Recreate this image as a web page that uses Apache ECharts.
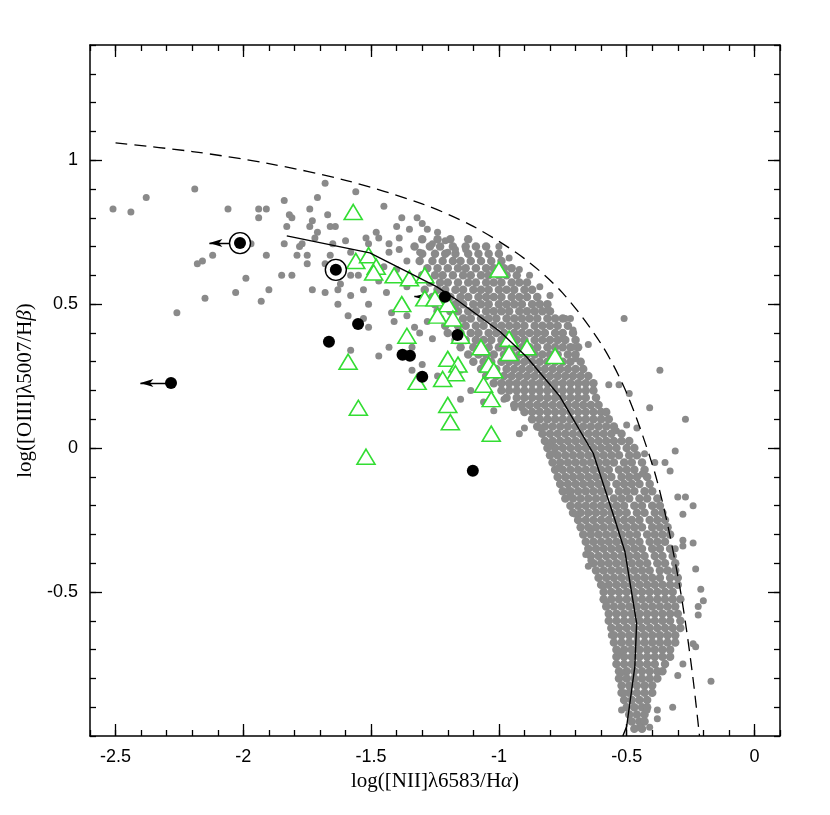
<!DOCTYPE html>
<html>
<head>
<meta charset="utf-8">
<script src="https://cdn.jsdelivr.net/npm/echarts@6/dist/echarts.min.js"></script>
<style>
  html, body { margin: 0; padding: 0; background: #fff; }
  #chart { width: 830px; height: 815px; }
</style>
</head>
<body>
<div id="chart"></div>
<script>
// dense part of the gray cloud, one row per log([OIII]/Hb) value: [y, [x values]]
var grayBandRows = [
  [0.725, [-1.30, -1.24, -1.19, -1.12]],
  [0.700, [-1.33, -1.27, -1.23, -1.18, -1.13, -1.09, -1.05]],
  [0.675, [-1.30, -1.25, -1.21, -1.17, -1.12, -1.08, -1.04, -1.00]],
  [0.650, [-1.31, -1.26, -1.22, -1.18, -1.15, -1.11, -1.07, -1.03, -0.99]],
  [0.625, [-1.28, -1.24, -1.20, -1.16, -1.13, -1.09, -1.05, -1.02, -0.98, -0.95]],
  [0.600, [-1.30, -1.25, -1.22, -1.18, -1.14, -1.11, -1.07, -1.04, -1.00, -0.97, -0.93]],
  [0.575, [-1.27, -1.23, -1.20, -1.16, -1.12, -1.09, -1.05, -1.02, -0.99, -0.95, -0.92, -0.89]],
  [0.550, [-1.29, -1.24, -1.21, -1.17, -1.14, -1.10, -1.07, -1.04, -1.00, -0.97, -0.94, -0.90, -0.87]],
  [0.525, [-1.26, -1.22, -1.19, -1.15, -1.12, -1.08, -1.05, -1.02, -0.99, -0.95, -0.92, -0.89, -0.85]],
  [0.500, [-1.25, -1.21, -1.17, -1.14, -1.10, -1.07, -1.04, -1.00, -0.97, -0.94, -0.91, -0.87, -0.84, -0.81]],
  [0.475, [-1.24, -1.19, -1.16, -1.12, -1.09, -1.05, -1.02, -0.99, -0.96, -0.92, -0.89, -0.86, -0.83, -0.80]],
  [0.450, [-1.23, -1.18, -1.14, -1.11, -1.07, -1.04, -1.01, -0.97, -0.94, -0.91, -0.88, -0.85, -0.81, -0.78, -0.75]],
  [0.425, [-1.21, -1.16, -1.13, -1.09, -1.06, -1.02, -0.99, -0.96, -0.93, -0.90, -0.86, -0.83, -0.80, -0.77, -0.73]],
  [0.400, [-1.20, -1.15, -1.11, -1.08, -1.04, -1.01, -0.98, -0.94, -0.91, -0.88, -0.85, -0.82, -0.78, -0.75, -0.71]],
  [0.375, [-1.17, -1.13, -1.09, -1.06, -1.03, -0.99, -0.96, -0.93, -0.90, -0.86, -0.83, -0.80, -0.77, -0.74, -0.70]],
  [0.350, [-1.15, -1.10, -1.07, -1.04, -1.00, -0.97, -0.94, -0.91, -0.88, -0.85, -0.81, -0.78, -0.75, -0.72, -0.69]],
  [0.325, [-1.12, -1.08, -1.05, -1.02, -0.98, -0.95, -0.92, -0.89, -0.86, -0.83, -0.80, -0.77, -0.73, -0.70]],
  [0.300, [-1.10, -1.06, -1.03, -0.99, -0.96, -0.93, -0.90, -0.87, -0.84, -0.81, -0.78, -0.75, -0.72, -0.68]],
  [0.275, [-1.07, -1.04, -1.01, -0.97, -0.94, -0.91, -0.88, -0.85, -0.82, -0.79, -0.76, -0.73, -0.70, -0.67]],
  [0.250, [-1.05, -1.01, -0.98, -0.95, -0.92, -0.89, -0.86, -0.83, -0.80, -0.77, -0.74, -0.71, -0.68, -0.65]],
  [0.225, [-1.02, -0.99, -0.96, -0.93, -0.90, -0.87, -0.84, -0.81, -0.78, -0.75, -0.72, -0.69, -0.66, -0.63]],
  [0.200, [-0.99, -0.96, -0.93, -0.90, -0.87, -0.84, -0.81, -0.78, -0.75, -0.72, -0.69, -0.66, -0.63]],
  [0.175, [-0.97, -0.93, -0.90, -0.87, -0.84, -0.81, -0.78, -0.75, -0.72, -0.69, -0.66, -0.62]],
  [0.150, [-0.94, -0.91, -0.88, -0.85, -0.82, -0.79, -0.76, -0.73, -0.70, -0.67, -0.64, -0.61]],
  [0.125, [-0.90, -0.87, -0.84, -0.81, -0.78, -0.75, -0.72, -0.69, -0.66, -0.63, -0.60, -0.58]],
  [0.100, [-0.87, -0.84, -0.81, -0.78, -0.75, -0.72, -0.69, -0.66, -0.63, -0.60, -0.57]],
  [0.075, [-0.85, -0.82, -0.79, -0.76, -0.73, -0.70, -0.67, -0.64, -0.61, -0.58, -0.55]],
  [0.050, [-0.83, -0.80, -0.77, -0.74, -0.71, -0.68, -0.65, -0.62, -0.59, -0.56, -0.52]],
  [0.025, [-0.82, -0.79, -0.76, -0.73, -0.70, -0.67, -0.64, -0.61, -0.58, -0.55, -0.52, -0.49]],
  [0.000, [-0.81, -0.78, -0.75, -0.72, -0.69, -0.66, -0.63, -0.60, -0.57, -0.54, -0.50, -0.47]],
  [-0.025, [-0.80, -0.77, -0.74, -0.71, -0.68, -0.65, -0.62, -0.59, -0.56, -0.53, -0.49, -0.46]],
  [-0.050, [-0.79, -0.76, -0.73, -0.70, -0.67, -0.64, -0.61, -0.58, -0.55, -0.51, -0.48, -0.44]],
  [-0.075, [-0.78, -0.75, -0.72, -0.69, -0.66, -0.63, -0.60, -0.57, -0.53, -0.50, -0.47, -0.43]],
  [-0.100, [-0.77, -0.74, -0.71, -0.68, -0.65, -0.62, -0.59, -0.56, -0.52, -0.49, -0.46, -0.42]],
  [-0.125, [-0.76, -0.73, -0.70, -0.67, -0.64, -0.61, -0.58, -0.54, -0.51, -0.48, -0.45, -0.41]],
  [-0.150, [-0.75, -0.72, -0.69, -0.66, -0.63, -0.60, -0.57, -0.53, -0.50, -0.47, -0.43, -0.40]],
  [-0.175, [-0.74, -0.71, -0.68, -0.65, -0.62, -0.59, -0.55, -0.52, -0.49, -0.45, -0.42, -0.38]],
  [-0.200, [-0.72, -0.69, -0.66, -0.63, -0.60, -0.57, -0.54, -0.51, -0.47, -0.44, -0.40, -0.37]],
  [-0.225, [-0.71, -0.68, -0.65, -0.62, -0.59, -0.56, -0.53, -0.50, -0.46, -0.43, -0.39, -0.36]],
  [-0.250, [-0.69, -0.66, -0.63, -0.60, -0.57, -0.54, -0.51, -0.48, -0.45, -0.41, -0.38, -0.35]],
  [-0.275, [-0.68, -0.65, -0.62, -0.59, -0.56, -0.53, -0.50, -0.47, -0.44, -0.40, -0.37, -0.34]],
  [-0.300, [-0.67, -0.64, -0.61, -0.58, -0.55, -0.52, -0.49, -0.46, -0.42, -0.39, -0.36, -0.33]],
  [-0.325, [-0.66, -0.63, -0.60, -0.57, -0.54, -0.51, -0.48, -0.45, -0.41, -0.38, -0.35]],
  [-0.350, [-0.65, -0.62, -0.59, -0.56, -0.53, -0.50, -0.47, -0.44, -0.40, -0.37, -0.33]],
  [-0.375, [-0.64, -0.61, -0.58, -0.55, -0.52, -0.49, -0.46, -0.43, -0.39, -0.36, -0.32]],
  [-0.400, [-0.63, -0.60, -0.57, -0.54, -0.51, -0.48, -0.45, -0.42, -0.38, -0.35, -0.31]],
  [-0.425, [-0.62, -0.59, -0.56, -0.53, -0.50, -0.47, -0.44, -0.41, -0.37, -0.34, -0.31]],
  [-0.450, [-0.61, -0.58, -0.55, -0.52, -0.49, -0.46, -0.43, -0.40, -0.37, -0.33, -0.30]],
  [-0.475, [-0.60, -0.57, -0.54, -0.51, -0.48, -0.45, -0.42, -0.39, -0.36, -0.33, -0.30]],
  [-0.500, [-0.59, -0.56, -0.53, -0.50, -0.47, -0.44, -0.41, -0.38, -0.35, -0.32]],
  [-0.525, [-0.59, -0.56, -0.53, -0.50, -0.47, -0.44, -0.41, -0.38, -0.35, -0.32, -0.29]],
  [-0.550, [-0.58, -0.55, -0.52, -0.49, -0.46, -0.43, -0.40, -0.37, -0.34, -0.31]],
  [-0.575, [-0.57, -0.54, -0.51, -0.48, -0.45, -0.42, -0.39, -0.36, -0.33, -0.30]],
  [-0.600, [-0.57, -0.54, -0.51, -0.48, -0.45, -0.42, -0.39, -0.36, -0.33, -0.29]],
  [-0.625, [-0.56, -0.53, -0.50, -0.47, -0.44, -0.41, -0.38, -0.35, -0.32, -0.29]],
  [-0.650, [-0.55, -0.52, -0.49, -0.46, -0.43, -0.40, -0.37, -0.34, -0.31]],
  [-0.675, [-0.55, -0.52, -0.49, -0.46, -0.43, -0.40, -0.37, -0.34, -0.31]],
  [-0.700, [-0.54, -0.51, -0.48, -0.45, -0.42, -0.39, -0.36, -0.33]],
  [-0.725, [-0.54, -0.51, -0.48, -0.45, -0.42, -0.39, -0.36, -0.33]],
  [-0.750, [-0.54, -0.51, -0.48, -0.45, -0.42, -0.39, -0.35]],
  [-0.775, [-0.53, -0.50, -0.47, -0.44, -0.41, -0.38, -0.36]],
  [-0.800, [-0.53, -0.50, -0.47, -0.44, -0.41, -0.38]],
  [-0.825, [-0.52, -0.49, -0.46, -0.43, -0.40]],
  [-0.850, [-0.52, -0.49, -0.46, -0.43, -0.40]],
  [-0.875, [-0.51, -0.48, -0.45, -0.42]],
  [-0.900, [-0.50, -0.47, -0.44, -0.42]],
  [-0.925, [-0.49, -0.46, -0.43]],
  [-0.950, [-0.48, -0.45, -0.43]],
  [-0.975, [-0.47, -0.44]]
];

// scattered gray galaxies outside the dense band: [x, y]
var grayScatter = [
  [-2.51, 0.83], [-2.44, 0.82], [-2.38, 0.87], [-2.19, 0.90], [-2.06, 0.83], [-1.94, 0.83], [-1.91, 0.83],
  [-1.94, 0.80], [-1.84, 0.86], [-1.82, 0.81], [-1.81, 0.80], [-1.83, 0.77], [-1.74, 0.83], [-1.71, 0.87],
  [-1.68, 0.92], [-1.56, 0.89], [-1.67, 0.81], [-1.73, 0.79], [-1.74, 0.77], [-1.66, 0.77], [-1.64, 0.77],
  [-1.71, 0.75], [-1.72, 0.73], [-1.60, 0.72], [-1.65, 0.71], [-1.77, 0.71], [-1.78, 0.70], [-1.84, 0.71],
  [-1.97, 0.71], [-1.91, 0.67], [-1.79, 0.67], [-1.75, 0.67], [-1.75, 0.64], [-1.66, 0.67], [-1.68, 0.64],
  [-1.58, 0.68], [-2.12, 0.67], [-2.16, 0.65], [-2.18, 0.64], [-1.99, 0.59], [-1.85, 0.60], [-1.81, 0.60],
  [-2.03, 0.54], [-1.90, 0.55], [-2.15, 0.52], [-1.93, 0.51], [-2.26, 0.47], [-1.73, 0.55], [-1.68, 0.54],
  [-1.63, 0.55], [-1.62, 0.57], [-1.58, 0.53], [-1.63, 0.50], [-1.58, 0.60], [-1.55, 0.60], [-1.59, 0.46],
  [-1.53, 0.55], [-1.52, 0.73], [-1.51, 0.71],
  [-1.32, 0.80], [-1.40, 0.77], [-1.48, 0.75], [-1.47, 0.73], [-1.39, 0.73], [-1.43, 0.71], [-1.28, 0.76],
  [-1.24, 0.75], [-1.26, 0.71], [-1.21, 0.72], [-1.31, 0.68], [-1.39, 0.69], [-1.43, 0.68], [-1.36, 0.65],
  [-1.20, 0.68], [-1.17, 0.69], [-1.13, 0.69], [-1.00, 0.70], [-1.45, 0.84], [-1.38, 0.80], [-1.30, 0.78],
  [-1.35, 0.76], [-0.96, 0.66], [-0.92, 0.62], [-0.88, 0.60], [-0.84, 0.56], [-0.80, 0.53],
  [-1.51, 0.50], [-1.53, 0.45], [-1.51, 0.42], [-1.42, 0.47], [-1.41, 0.44], [-1.36, 0.46], [-1.33, 0.42],
  [-1.28, 0.44], [-1.31, 0.40], [-1.26, 0.38], [-1.58, 0.34], [-1.47, 0.32], [-1.43, 0.35], [-1.34, 0.35],
  [-1.30, 0.29], [-1.34, 0.27], [-1.24, 0.25], [-1.15, 0.17], [-1.15, 0.27], [-1.11, 0.20], [-1.06, 0.16],
  [-1.47, 0.58], [-1.44, 0.54], [-1.40, 0.62], [-1.36, 0.56], [-1.45, 0.63],
  [-0.51, 0.45], [-0.37, 0.27], [-0.27, 0.10], [-0.41, 0.14], [-0.31, -0.01], [-0.35, -0.05], [-0.33, -0.08],
  [-0.57, 0.22], [-0.53, 0.22], [-0.49, 0.19], [-0.54, 0.06], [-0.50, 0.08], [-0.46, 0.07], [-0.43, -0.02],
  [-0.39, -0.05], [-0.44, -0.09], [-0.72, 0.45], [-0.71, 0.41], [-0.65, 0.36], [-0.75, 0.38], [-0.71, 0.35],
  [-0.70, 0.31], [-0.81, 0.48], [-0.74, 0.45],
  [-1.02, 0.13], [-0.92, 0.05], [-0.90, 0.07], [-0.84, 0.07], [-0.94, 0.14], [-0.91, 0.14], [-0.98, 0.17],
  [-0.80, 0.01], [-0.79, -0.02], [-0.76, -0.05], [-0.77, -0.07],
  [-0.30, -0.17], [-0.27, -0.17], [-0.24, -0.20], [-0.28, -0.23], [-0.28, -0.32], [-0.24, -0.33], [-0.28, -0.34],
  [-0.31, -0.35], [-0.23, -0.42], [-0.21, -0.49], [-0.20, -0.53], [-0.22, -0.55], [-0.22, -0.58], [-0.24, -0.68],
  [-0.23, -0.69], [-0.28, -0.75], [-0.30, -0.79], [-0.17, -0.81], [-0.32, -0.90], [-0.38, -0.91], [-0.38, -0.94],
  [-0.41, -0.97], [-0.45, -0.97], [-0.42, -0.91], [-0.52, -0.91],
  [-0.70, -0.23], [-0.66, -0.37], [-0.64, -0.39], [-0.65, -0.41], [-0.59, -0.48], [-0.58, -0.54], [-0.56, -0.65],
  [-0.53, -0.71], [-0.52, -0.78], [-0.72, -0.16], [-0.73, -0.15], [-0.64, -0.29], [-0.51, -0.85]
];

// green open triangles
var triangles = [
  [-1.57, 0.82], [-1.56, 0.65], [-1.51, 0.67], [-1.48, 0.63], [-1.49, 0.61], [-1.41, 0.60], [-1.35, 0.59],
  [-1.29, 0.60], [-1.38, 0.50], [-1.29, 0.52], [-1.25, 0.52], [-1.20, 0.50], [-1.24, 0.46], [-1.18, 0.45],
  [-1.36, 0.39], [-1.15, 0.39], [-1.20, 0.31], [-1.16, 0.29], [-1.17, 0.26], [-1.22, 0.24], [-1.32, 0.23],
  [-1.59, 0.30], [-1.55, 0.14], [-1.20, 0.15], [-1.00, 0.62], [-1.07, 0.35], [-1.04, 0.29], [-1.02, 0.27],
  [-1.06, 0.22], [-1.03, 0.17], [-0.96, 0.38], [-0.96, 0.33], [-0.89, 0.35], [-0.78, 0.32], [-1.03, 0.05],
  [-1.52, -0.03], [-1.19, 0.09]
];

// black filled circles
var blackDots = [
  [-2.013, 0.712], [-1.638, 0.619], [-2.283, 0.226], [-1.211, 0.526], [-1.665, 0.369], [-1.551, 0.431],
  [-1.377, 0.324], [-1.348, 0.321], [-1.300, 0.248], [-1.162, 0.393], [-1.102, -0.079]
];
// circled ones
var ringed = [[-2.013, 0.712], [-1.638, 0.619]];
// upper limits in x (arrow pointing left)
var upperLimits = [[-2.013, 0.712], [-2.283, 0.226], [-1.211, 0.526]];
var arrowLen = 0.12;

// dashed demarcation curve
var dashX = [-2.50, -2.20, -1.90, -1.60, -1.30, -1.10, -0.90, -0.75, -0.60, -0.50, -0.40, -0.35, -0.30, -0.27, -0.24, -0.215];
var dashY = [1.06, 1.03, 0.988, 0.93, 0.848, 0.77, 0.658, 0.538, 0.362, 0.191, -0.056, -0.225, -0.443, -0.606, -0.803, -1.0];

// solid running line
var medX = [-1.83, -1.505, -1.244, -1.165, -0.996, -0.892, -0.761, -0.631, -0.546, -0.507, -0.461, -0.468, -0.50, -0.515];
var medY = [0.737, 0.678, 0.561, 0.515, 0.405, 0.317, 0.179, -0.018, -0.249, -0.359, -0.608, -0.759, -0.967, -1.0];

var xMajor = [-2.5, -2, -1.5, -1, -0.5, 0];
var yMajor = [-0.5, 0, 0.5, 1];

var xName = 'log([NII]λ6583/H{i|α})';
var yName = 'log([OIII]λ5007/H{i|β})';

var bandPoints = [];
grayBandRows.forEach(function (r) {
  r[1].forEach(function (x) { bandPoints.push([x, r[0]]); });
});

var dashData = dashX.map(function (x, i) { return [x, dashY[i]]; });
var medData = medX.map(function (x, i) { return [x, medY[i]]; });
var arrowData = upperLimits.map(function (p) {
  return { coords: [[p[0], p[1]], [p[0] - arrowLen, p[1]]] };
});

function isMajor(v, list) {
  for (var i = 0; i < list.length; i++) {
    if (Math.abs(v - list[i]) < 1e-6) return true;
  }
  return false;
}
function fmt(v) {
  return String(Math.round(v * 10) / 10);
}

var labelFont = 'Liberation Sans';
var titleFont = 'Liberation Serif';
var titleStyle = {
  color: '#000',
  fontFamily: titleFont,
  fontSize: 21,
  rich: { i: { fontFamily: titleFont, fontSize: 21, fontStyle: 'italic', color: '#000' } }
};
var lineCol = '#000';
var grayCol = '#8a8a8a';

function minorAxis(pos, min, max, showLabel, major) {
  return {
    type: 'value', position: pos, min: min, max: max, interval: 0.1,
    axisLine: { show: true, onZero: false, lineStyle: { color: lineCol, width: 1.5 } },
    axisTick: { show: true, inside: true, length: 6, lineStyle: { color: lineCol, width: 1.3 } },
    axisLabel: {
      show: showLabel, color: '#000', fontFamily: labelFont, fontSize: 18, margin: 12,
      formatter: function (v) { return isMajor(v, major) ? fmt(v) : ''; }
    },
    splitLine: { show: false }
  };
}
function majorAxis(pos, min, max, major) {
  return {
    type: 'value', position: pos, min: min, max: max,
    axisLine: { show: false, onZero: false },
    axisTick: { show: true, inside: true, length: 12, customValues: major, lineStyle: { color: lineCol, width: 1.3 } },
    axisLabel: { show: false },
    splitLine: { show: false }
  };
}

var xBottom = minorAxis('bottom', -2.6, 0.1, true, xMajor);
xBottom.name = xName;
xBottom.nameLocation = 'middle';
xBottom.nameGap = 32;
xBottom.nameTextStyle = titleStyle;

var yLeft = minorAxis('left', -1, 1.4, true, yMajor);
yLeft.name = yName;
yLeft.nameLocation = 'middle';
yLeft.nameGap = 50;
yLeft.nameTextStyle = titleStyle;

var option = {
  animation: false,
  backgroundColor: '#fff',
  grid: { left: 90, top: 45, width: 690, height: 691, containLabel: false },
  xAxis: [
    xBottom,
    majorAxis('bottom', -2.6, 0.1, xMajor),
    minorAxis('top', -2.6, 0.1, false, xMajor),
    majorAxis('top', -2.6, 0.1, xMajor)
  ],
  yAxis: [
    yLeft,
    majorAxis('left', -1, 1.4, yMajor),
    minorAxis('right', -1, 1.4, false, yMajor),
    majorAxis('right', -1, 1.4, yMajor)
  ],
  series: [
    {
      type: 'scatter', data: bandPoints, symbolSize: 8.5, silent: true,
      itemStyle: { color: grayCol, opacity: 1 }
    },
    {
      type: 'scatter', data: grayScatter, symbolSize: 7, silent: true,
      itemStyle: { color: grayCol, opacity: 1 }
    },
    {
      type: 'line', data: dashData, showSymbol: false, symbol: 'none', smooth: 0.3, silent: true,
      lineStyle: { color: '#000', width: 1.3, type: [12, 7] }
    },
    {
      type: 'line', data: medData, showSymbol: false, symbol: 'none', silent: true,
      lineStyle: { color: '#000', width: 1.4 }
    },
    {
      type: 'scatter', data: triangles, symbol: 'triangle', symbolSize: [18, 15], silent: true,
      itemStyle: { color: '#fff', borderColor: '#33dd33', borderWidth: 1.6, opacity: 1 }
    },
    {
      type: 'lines', coordinateSystem: 'cartesian2d', data: arrowData, silent: true,
      symbol: ['none', 'arrow'], symbolSize: [0, [6, 13]],
      lineStyle: { color: '#000', width: 1.3, opacity: 1 }
    },
    {
      type: 'scatter', data: ringed, symbolSize: 21, silent: true,
      itemStyle: { color: '#fff', borderColor: '#000', borderWidth: 1.4, opacity: 1 }
    },
    {
      type: 'scatter', data: blackDots, symbolSize: 12, silent: true,
      itemStyle: { color: '#000', opacity: 1 }
    }
  ]
};

var chart = echarts.init(document.getElementById('chart'), null, { renderer: 'canvas' });
chart.setOption(option);
</script>
</body>
</html>
